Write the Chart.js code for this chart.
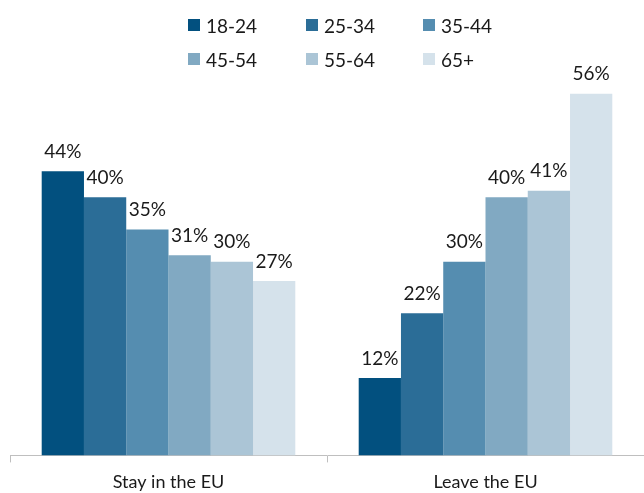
<!DOCTYPE html>
<html>
<head>
<meta charset="utf-8">
<script src="https://cdn.jsdelivr.net/npm/chart.js@4"></script>
<style>
  html, body { margin: 0; padding: 0; background: #fff; }
  #wrap { position: relative; width: 644px; height: 493px; }
  #legend { position: absolute; left: 188px; top: 14px; display: grid; grid-template-columns: 118px 117px 110px; row-gap: 12px; font-family: Lato, sans-serif; font-size: 19px; color: #1a1a1a; }
  .item { display: flex; align-items: center; height: 22px; }
  .box { width: 12px; height: 12px; margin-right: 6px; }
</style>
</head>
<body>
<div id="wrap">
  <canvas id="chart" width="644" height="493"></canvas>
  <div id="legend"></div>
</div>
<script>
const categories = ["Stay in the EU", "Leave the EU"]
const ageGroups = ["18-24", "25-34", "35-44", "45-54", "55-64", "65+"]
const age18_24 = [44, 12]
const age25_34 = [40, 22]
const age35_44 = [35, 30]
const age45_54 = [31, 40]
const age55_64 = [30, 41]
const age65plus = [27, 56]
const colors = ["#02507f", "#2b6d97", "#558db0", "#81a9c2", "#abc5d6", "#d5e2eb"]

const seriesValues = [age18_24, age25_34, age35_44, age45_54, age55_64, age65plus]

function buildLegend() {
  let legend = document.getElementById("legend")
  ageGroups.forEach((name, i) => {
    let item = document.createElement("div")
    item.className = "item"
    item.innerHTML = `<span class="box" style="background:${colors[i]}"></span>${name}`
    legend.appendChild(item)
  })
}

const valueLabels = {
  id: "valueLabels",
  afterDatasetsDraw(chart) {
    let ctx = chart.ctx
    ctx.save()
    ctx.font = "19px Lato"
    ctx.fillStyle = "#1a1a1a"
    ctx.textAlign = "center"
    ctx.textBaseline = "bottom"
    chart.data.datasets.forEach((ds, i) => {
      chart.getDatasetMeta(i).data.forEach((bar, j) => {
        ctx.fillText(`${ds.data[j]}%`, bar.x, bar.y - 10)
      })
    })
    ctx.restore()
  }
}

function createChart() {
  let ctx = document.getElementById("chart")
  return new Chart(ctx, {
    type: "bar",
    data: {
      labels: categories,
      datasets: ageGroups.map((name, i) => ({
        label: name,
        data: seriesValues[i],
        backgroundColor: colors[i],
        borderWidth: 0,
        categoryPercentage: 0.8,
        barPercentage: 1
      }))
    },
    options: {
      responsive: false,
      animation: false,
      layout: {
        padding: { left: 10, right: 0, top: 68, bottom: -9 }
      },
      plugins: {
        legend: { display: false },
        tooltip: { enabled: false }
      },
      scales: {
        x: {
          grid: {
            offset: true,
            drawOnChartArea: false,
            drawTicks: true,
            tickLength: 7,
            color: "#bfbfbf"
          },
          border: { color: "#bfbfbf" },
          ticks: {
            padding: 9,
            font: { family: "Lato", size: 18 },
            color: "#1a1a1a"
          }
        },
        y: {
          display: false,
          min: 0,
          max: 60
        }
      }
    },
    plugins: [valueLabels]
  })
}

buildLegend()
createChart()
</script>
</body>
</html>
